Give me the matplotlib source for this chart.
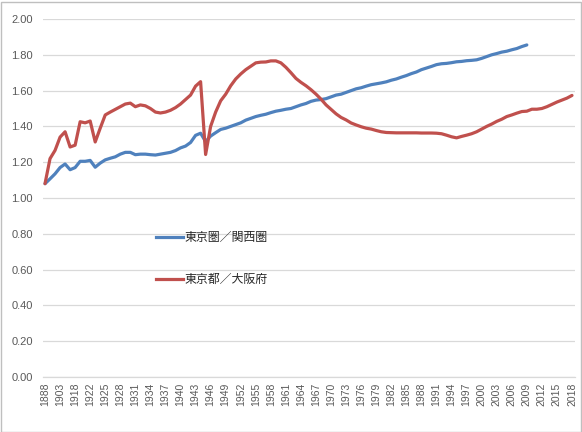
import matplotlib
matplotlib.use("Agg")
import matplotlib.pyplot as plt
import numpy as np
from matplotlib.lines import Line2D
from matplotlib.patches import Rectangle

years = [1888, 1893, 1898, 1903, 1908, 1913, 1918] + list(range(1920, 2019))

tokyo_kansai = [
    1.08, 1.107, 1.135, 1.17, 1.19, 1.158, 1.17,
    1.205, 1.205, 1.21, 1.172, 1.195, 1.213, 1.222, 1.23, 1.245, 1.255,   # 1920-1929
    1.255, 1.242, 1.245, 1.245, 1.242, 1.24, 1.245, 1.25, 1.255, 1.265,   # 1930-1939
    1.28, 1.29, 1.31, 1.35, 1.362, 1.315, 1.346, 1.365, 1.383, 1.39,      # 1940-1949
    1.40, 1.41, 1.42, 1.435, 1.445, 1.455, 1.462, 1.468, 1.477, 1.485,    # 1950-1959
    1.49, 1.496, 1.50, 1.51, 1.52, 1.528, 1.54, 1.547, 1.55, 1.555,       # 1960-1969
    1.565, 1.575, 1.58, 1.59, 1.60, 1.61, 1.616, 1.625, 1.633, 1.638,     # 1970-1979
    1.643, 1.649, 1.658, 1.665, 1.675, 1.684, 1.695, 1.704, 1.717, 1.726, # 1980-1989
    1.735, 1.745, 1.75, 1.752, 1.756, 1.761, 1.763, 1.767, 1.769, 1.772,  # 1990-1999
    1.78, 1.79, 1.80, 1.807, 1.815, 1.82, 1.828, 1.835, 1.846, 1.855,     # 2000-2009
    None, None, None, None, None, None, None, None, None,                 # 2010-2018
]

tokyo_osaka = [
    1.08, 1.22, 1.266, 1.34, 1.37, 1.285, 1.295,
    1.426, 1.42, 1.43, 1.313, 1.39, 1.464, 1.48, 1.495, 1.51, 1.525,      # 1920-1929
    1.53, 1.51, 1.52, 1.515, 1.50, 1.48, 1.475, 1.48, 1.49, 1.505,        # 1930-1939
    1.525, 1.55, 1.575, 1.625, 1.65, 1.243, 1.40, 1.48, 1.543, 1.58,      # 1940-1949
    1.627, 1.665, 1.693, 1.717, 1.736, 1.755, 1.759, 1.76, 1.766, 1.766,  # 1950-1959
    1.755, 1.73, 1.70, 1.668, 1.646, 1.627, 1.605, 1.58, 1.552, 1.52,     # 1960-1969
    1.495, 1.47, 1.45, 1.436, 1.419, 1.408, 1.398, 1.39, 1.385, 1.377,    # 1970-1979
    1.37, 1.366, 1.365, 1.364, 1.364, 1.364, 1.364, 1.364, 1.363, 1.363,  # 1980-1989
    1.363, 1.362, 1.359, 1.351, 1.342, 1.336, 1.344, 1.351, 1.359, 1.37,  # 1990-1999
    1.385, 1.40, 1.413, 1.428, 1.44, 1.455, 1.464, 1.474, 1.483, 1.485,   # 2000-2009
    1.496, 1.496, 1.50, 1.51, 1.523, 1.536, 1.547, 1.558, 1.573,          # 2010-2018
]

series_names = ["東京圏／関西圏", "東京都／大阪府"]
y_ticks = [0.0, 0.2, 0.4, 0.6, 0.8, 1.0, 1.2, 1.4, 1.6, 1.8, 2.0]

plt.rcParams['font.family'] = ['Liberation Sans', 'Noto Sans CJK JP', 'DejaVu Sans']

W, H = 582, 432
fig = plt.figure(figsize=(W / 100, H / 100), dpi=100)
fig.patch.set_facecolor('white')

left_px, right_px, top_px, bottom_px = 42.5, 574.5, 19, 377
ax = fig.add_axes([left_px / W, (H - bottom_px) / H,
                   (right_px - left_px) / W, (bottom_px - top_px) / H])

x = np.arange(len(years))
blue = np.array([np.nan if v is None else v for v in tokyo_kansai], dtype=float)
red = np.array(tokyo_osaka, dtype=float)

c_blue = '#4F81BD'
c_red = '#C0504D'
ax.plot(x, blue, color=c_blue, lw=2.3, solid_joinstyle='round', solid_capstyle='round', zorder=3)
ax.plot(x, red, color=c_red, lw=2.3, solid_joinstyle='round', solid_capstyle='round', zorder=3)

ax.set_xlim(-0.5, len(years) - 0.5)
ax.set_ylim(0, 2.0)
ax.set_yticks(y_ticks)
ax.set_yticklabels([f"{v:.2f}" for v in y_ticks])
ax.set_xticks(x[::3])
ax.set_xticklabels([str(y) for y in years[::3]], rotation=90)

ax.grid(axis='y', color='#D9D9D9', lw=0.9, zorder=0)
ax.set_axisbelow(True)
for s in ['top', 'right', 'left']:
    ax.spines[s].set_visible(False)
ax.spines['bottom'].set_color('#D9D9D9')
ax.spines['bottom'].set_linewidth(0.9)
ax.tick_params(axis='both', length=0, colors='#595959')
ax.tick_params(axis='y', labelsize=8, pad=7)
ax.tick_params(axis='x', labelsize=7.5, pad=4)

handles = [Line2D([], [], color=c_blue, lw=2.3), Line2D([], [], color=c_red, lw=2.3)]
leg = ax.legend(handles, series_names, loc='upper left',
                bbox_to_anchor=(150 / W, (H - 225) / H), bbox_transform=fig.transFigure,
                frameon=False, borderpad=0, handlelength=2.25, handletextpad=0.1,
                labelspacing=2.42, prop={'family': ['Noto Sans CJK JP', 'DejaVu Sans'], 'size': 8.6})
for t in leg.get_texts():
    t.set_color('#262626')

fig.add_artist(Rectangle((0.5 / W, 0.5 / H), (W - 2) / W, (H - 2) / H,
                         transform=fig.transFigure, fill=False,
                         edgecolor='#BFBFBF', lw=1.0))

fig.savefig('out.png', dpi=100, facecolor='white')
